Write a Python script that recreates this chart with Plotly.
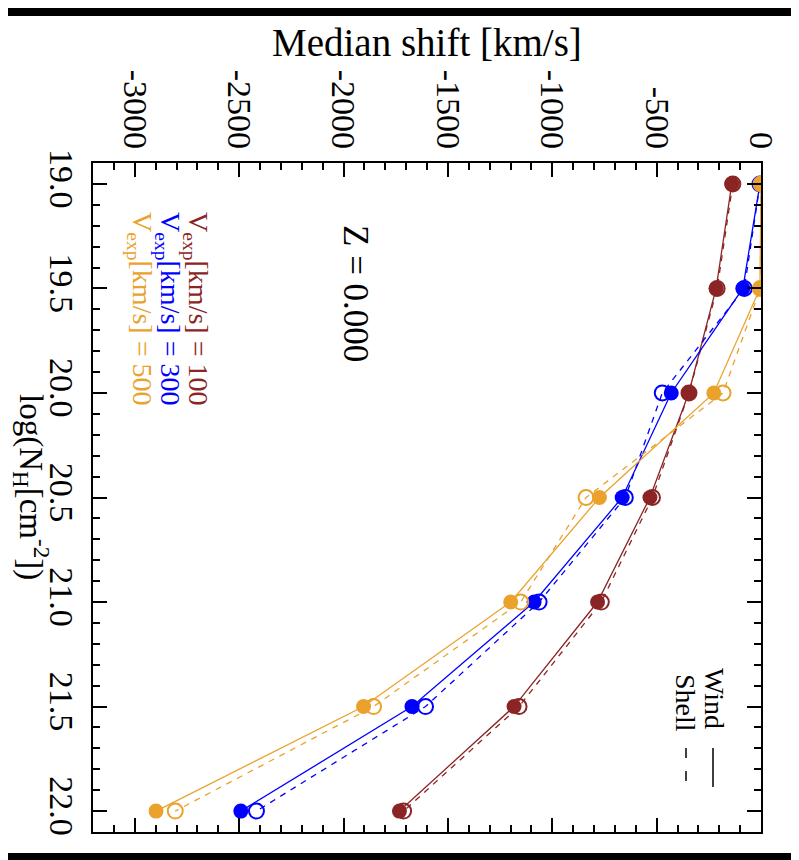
import plotly.graph_objects as go

# ---- data ----
log_nh = [19.0, 19.5, 20.0, 20.5, 21.0, 21.5, 22.0]
wind_100 = [-140, -215, -346, -532, -783, -1183, -1732]
shell_100 = [-135, -210, -345, -520, -765, -1159, -1712]
wind_300 = [-5, -87, -430, -665, -1087, -1672, -2492]
shell_300 = [-5, -80, -473, -650, -1063, -1607, -2417]
wind_500 = [0, -5, -226, -774, -1199, -1904, -2898]
shell_500 = [0, -3, -182, -838, -1151, -1856, -2806]

shift_ticks = [-3000, -2500, -2000, -1500, -1000, -500, 0]
shift_tick_text = ["-3000", "-2500", "-2000", "-1500", "-1000", "-500", "0"]
nh_ticks = [19.0, 19.5, 20.0, 20.5, 21.0, 21.5, 22.0]
nh_tick_text = ["19.0", "19.5", "20.0", "20.5", "21.0", "21.5", "22.0"]

vexp_labels = ["100", "300", "500"]
colors = ["#8b2525", "#0000ff", "#eaa22c"]

OFF = 8  # page offset of the figure inside the browser window
W, H = 799 - OFF, 860 - OFF
# plot area in screen pixels
X0, X1, Y0, Y1 = 93, 761, 163, 832


def px(x):
    return (x - X0) / (X1 - X0)


def py(y):
    return (Y1 - y) / (Y1 - Y0)


FONT = "Liberation Serif"

fig = go.Figure()

series = [(wind_100, shell_100), (wind_300, shell_300), (wind_500, shell_500)]
for (wind, shell), col in zip(series, colors):
    fig.add_trace(go.Scatter(
        x=shell, y=log_nh, mode="lines+markers",
        line=dict(color=col, width=1.3, dash="6px,6px"),
        marker=dict(symbol="circle-open", size=15, color=col, line=dict(width=2, color=col)),
        showlegend=False))
    fig.add_trace(go.Scatter(
        x=wind, y=log_nh, mode="lines+markers",
        line=dict(color=col, width=1.3),
        marker=dict(symbol="circle", size=15, color=col),
        showlegend=False))

annotations = []
# axis titles
annotations.append(dict(text="Median shift [km/s]", x=px(427), y=py(42), xref="paper", yref="paper",
                        showarrow=False, xanchor="center", yanchor="middle",
                        font=dict(family=FONT, size=39, color="black")))
annotations.append(dict(text="log(N<sub>H</sub>[cm<sup>-2</sup>])", x=px(31), y=py(487),
                        xref="paper", yref="paper", showarrow=False, textangle=90,
                        xanchor="center", yanchor="middle",
                        font=dict(family=FONT, size=33, color="black")))
# Z label
annotations.append(dict(text="Z = 0.000", x=px(356), y=py(293), xref="paper", yref="paper",
                        showarrow=False, textangle=90, xanchor="center", yanchor="middle",
                        font=dict(family=FONT, size=35, color="black")))
# velocity legend
for lab, col, xc in zip(vexp_labels, colors, [197, 169, 141]):
    annotations.append(dict(text="V<sub>exp</sub>[km/s] = " + lab, x=px(xc), y=py(308),
                            xref="paper", yref="paper", showarrow=False, textangle=90,
                            xanchor="center", yanchor="middle",
                            font=dict(family=FONT, size=28, color=col)))
# Wind / Shell legend
annotations.append(dict(text="Wind", x=px(715), y=py(698), xref="paper", yref="paper",
                        showarrow=False, textangle=90, xanchor="center", yanchor="middle",
                        font=dict(family=FONT, size=28, color="black")))
annotations.append(dict(text="Shell", x=px(686), y=py(703), xref="paper", yref="paper",
                        showarrow=False, textangle=90, xanchor="center", yanchor="middle",
                        font=dict(family=FONT, size=28, color="black")))

shapes = [
    dict(type="rect", xref="paper", yref="paper", x0=px(-20), x1=px(794), y0=py(853), y1=py(16),
         fillcolor="white", line=dict(width=0), layer="below"),
    dict(type="line", xref="paper", yref="paper", x0=px(713), x1=px(713), y0=py(748), y1=py(787),
         line=dict(color="black", width=1.5)),
    dict(type="line", xref="paper", yref="paper", x0=px(686), x1=px(686), y0=py(748), y1=py(785),
         line=dict(color="black", width=1.5, dash="10px,13px")),
]

axis_common = dict(
    showgrid=False, zeroline=False, showline=True, linecolor="black", linewidth=2,
    mirror="ticks", ticks="inside", ticklen=14, tickwidth=2, tickcolor="black",
    tickangle=90, tickfont=dict(family=FONT, size=34, color="black"),
    minor=dict(ticks="inside", ticklen=7, tickwidth=1.5, tickcolor="black", showgrid=False),
)

fig.update_xaxes(range=[-3200, 0], side="top", tickmode="array",
                 tickvals=shift_ticks, ticktext=shift_tick_text,
                 minor_dtick=100, minor_tick0=0, **axis_common)
fig.update_yaxes(range=[22.1, 18.9], tickmode="array",
                 tickvals=nh_ticks, ticktext=nh_tick_text,
                 minor_dtick=0.1, minor_tick0=19, **axis_common)

fig.update_layout(
    width=W, height=H,
    margin=dict(l=X0 - OFF, r=799 - X1, t=Y0 - OFF, b=860 - Y1, pad=0),
    paper_bgcolor="black", plot_bgcolor="white",
    annotations=annotations, shapes=shapes,
    showlegend=False,
)

fig.write_html("out.html")
